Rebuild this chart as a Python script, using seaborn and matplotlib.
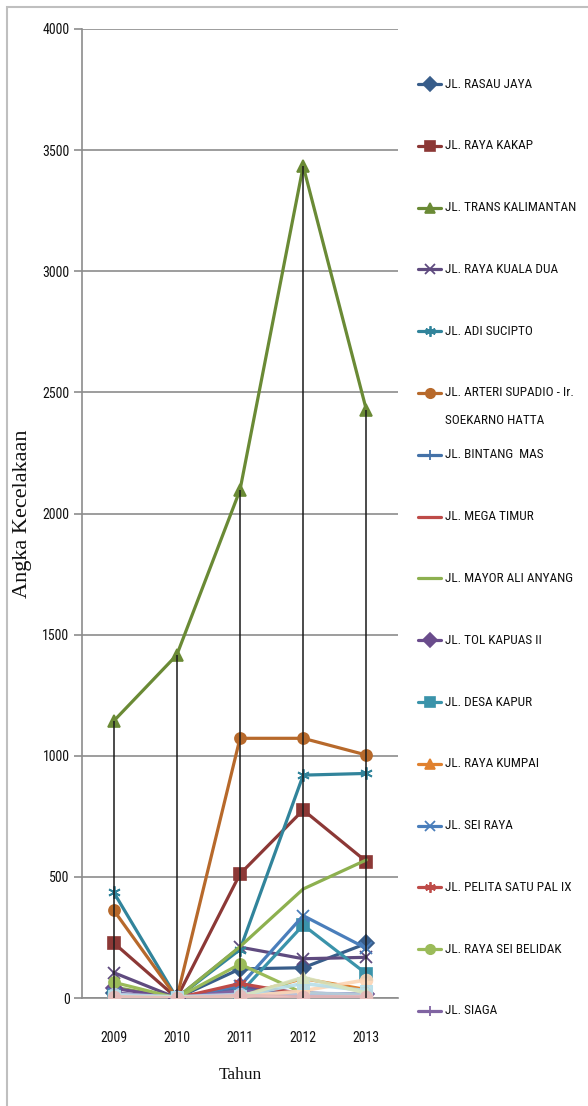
import matplotlib
matplotlib.use("Agg")
import matplotlib.pyplot as plt
from matplotlib import font_manager as fm
from matplotlib.lines import Line2D
from matplotlib.patches import Rectangle
import seaborn as sns
import pandas as pd

# ---- data -------------------------------------------------------------
years = [2009, 2010, 2011, 2012, 2013]

roads = [
    "JL. RASAU JAYA",
    "JL. RAYA KAKAP",
    "JL. TRANS KALIMANTAN",
    "JL. RAYA KUALA DUA",
    "JL. ADI SUCIPTO",
    "JL. ARTERI SUPADIO - Ir.\nSOEKARNO HATTA",
    "JL. BINTANG  MAS",
    "JL. MEGA TIMUR",
    "JL. MAYOR ALI ANYANG",
    "JL. TOL KAPUAS II",
    "JL. DESA KAPUR",
    "JL. RAYA KUMPAI",
    "JL. SEI RAYA",
    "JL. PELITA SATU PAL IX",
    "JL. RAYA SEI BELIDAK",
    "JL. SIAGA",
]

rasau_jaya = [20, 0, 120, 125, 225]
raya_kakap = [228, 0, 512, 776, 563]
trans_kalimantan = [1143, 1416, 2097, 3434, 2427]
raya_kuala_dua = [105, 0, 210, 162, 168]
adi_sucipto = [437, 0, 200, 920, 927]
arteri_supadio = [363, 0, 1072, 1072, 1003]
bintang_mas = [10, 0, 40, 20, 15]
mega_timur = [5, 0, 25, 10, 5]
mayor_ali_anyang = [45, 0, 212, 450, 570]
tol_kapuas = [40, 0, 50, 20, 15]
desa_kapur = [10, 0, 20, 301, 100]
raya_kumpai = [5, 0, 10, 80, 35]
sei_raya = [15, 0, 50, 340, 205]
pelita_satu = [10, 0, 60, 15, 10]
raya_sei_belidak = [65, 0, 140, 20, 10]
siaga = [20, 0, 30, 10, 5]

values = [rasau_jaya, raya_kakap, trans_kalimantan, raya_kuala_dua,
          adi_sucipto, arteri_supadio, bintang_mas, mega_timur,
          mayor_ali_anyang, tol_kapuas, desa_kapur, raya_kumpai,
          sei_raya, pelita_satu, raya_sei_belidak, siaga]

# further minor roads (not listed in the key)
minor_values = [
    [15, 5, 15, 20, 15],
    [5, 2, 5, 30, 75],
    [10, 3, 10, 60, 30],
    [5, 2, 5, 85, 20],
    [5, 0, 10, 5, 5],
]

y_ticks = [0, 500, 1000, 1500, 2000, 2500, 3000, 3500, 4000]

# ---- styles -----------------------------------------------------------
colors = ["#385D8A", "#8C3836", "#6A8A35", "#5F4B7F", "#31849B", "#B7692B",
          "#4472A8", "#BE4B48", "#8DB04F", "#6A4C8C", "#3A93AA", "#E0812F",
          "#4A7EBB", "#BE4B48", "#9BBB59", "#8064A2"]
markers = ["D", "s", "^", "x", (6, 2, 0), "o", "+", None, None, "D", "s",
           "^", "x", (6, 2, 0), "o", "+"]
minor_colors = ["#B9CDE5", "#FCD5B5", "#B7DEE8", "#D7E4BD", "#E6B9B8"]
minor_markers = ["o", "o", "s", "^", "o"]

sns.set_theme(style="white")


def pick_font(cands):
    for c in cands:
        try:
            fm.findfont(fm.FontProperties(family=c), fallback_to_default=False)
            return c
        except Exception:
            continue
    return "DejaVu Sans"


sans = pick_font(["Liberation Sans Narrow", "DejaVu Sans Condensed", "Roboto Condensed", "Liberation Sans"])
serif = pick_font(["Liberation Serif", "DejaVu Serif"])
plt.rcParams["font.family"] = [sans, "DejaVu Sans"]
plt.rcParams["text.color"] = "#111111"
plt.rcParams["axes.labelcolor"] = "#111111"
plt.rcParams["xtick.color"] = "#111111"
plt.rcParams["ytick.color"] = "#111111"

W, H = 588, 1106
fig = plt.figure(figsize=(W / 100, H / 100), dpi=100)
ax = fig.add_axes([82 / W, 108 / H, 316 / W, 969 / H])

rows = []
for name, vals in zip(roads, values):
    for yr, v in zip(years, vals):
        rows.append({"Tahun": yr, "Angka": v, "Jalan": name})
df = pd.DataFrame(rows)

handles = []
for name, col, mk in zip(roads, colors, markers):
    sub = df[df["Jalan"] == name]
    filled = mk not in ("x", "+") and not isinstance(mk, tuple)
    sns.lineplot(data=sub, x="Tahun", y="Angka", ax=ax, color=col, lw=2.3,
                 marker=mk if mk is not None else "", markersize=8 if filled else 9,
                 markeredgewidth=1.2 if filled else 1.3, markeredgecolor=col,
                 zorder=3, legend=False)
    handles.append(ax.lines[-1])

for vals, col, mk in zip(minor_values, minor_colors, minor_markers):
    mdf = pd.DataFrame({"Tahun": years, "Angka": vals})
    sns.lineplot(data=mdf, x="Tahun", y="Angka", ax=ax, color=col, lw=2.6,
                 marker=mk, markersize=9, markeredgecolor=col, alpha=0.9,
                 zorder=4, legend=False)

# drop lines from the highest value in each year
tops = [max(v[i] for v in values) for i in range(len(years))]
ax.vlines(years, 0, tops, color="#1A1A1A", lw=1.1, zorder=6)

ax.set_xlim(2008.5, 2013.5)
ax.set_ylim(0, 4000)
ax.set_xticks(years)
ax.set_xticklabels([str(y) for y in years])
ax.set_yticks(y_ticks)
ax.set_yticklabels([str(t) for t in y_ticks])
ax.yaxis.grid(True, color="#8C8C8C", lw=1.2, zorder=0)
ax.xaxis.grid(False)
for s in ("top", "right"):
    ax.spines[s].set_visible(False)
for s in ("left", "bottom"):
    ax.spines[s].set_color("#8C8C8C")
    ax.spines[s].set_linewidth(1.2)
ax.tick_params(axis="y", direction="out", length=6, width=1.2, color="#8C8C8C",
               labelsize=10, pad=3, left=True, labelcolor="#111111")
ax.tick_params(axis="x", length=0, labelsize=10, pad=24, labelcolor="#111111")

ax.set_xlabel("Tahun", family=serif, fontsize=12.5)
ax.set_ylabel("Angka Kecelakaan", family=serif, fontsize=16)
ax.xaxis.set_label_coords(0.5, -0.071)
ax.yaxis.set_label_coords(-0.158, 0.5)

# key on the right
y0, step = 84, 61.8
for k, (name, h) in enumerate(zip(roads, handles)):
    yc = y0 + k * step
    yf = 1 - yc / H
    ln = Line2D([418 / W, 429.5 / W, 441 / W], [yf, yf, yf], transform=fig.transFigure,
                color=h.get_color(), lw=2.3, marker=h.get_marker(),
                markersize=h.get_markersize() * 0.85, markevery=[1],
                markeredgecolor=h.get_markeredgecolor(),
                markeredgewidth=h.get_markeredgewidth())
    fig.add_artist(ln)
    for j, part in enumerate(name.split("\n")):
        fig.text(445 / W, 1 - (yc + j * 28) / H, part, fontsize=9.5,
                 va="center", ha="left", color="#111111")

# chart frame
fig.add_artist(Rectangle((7 / W, -0.05), 1.2, 1 - 7 / H + 0.05, transform=fig.transFigure,
                         fill=False, edgecolor="#BFBFBF", lw=1.5))

fig.savefig("out.png", dpi=100)
